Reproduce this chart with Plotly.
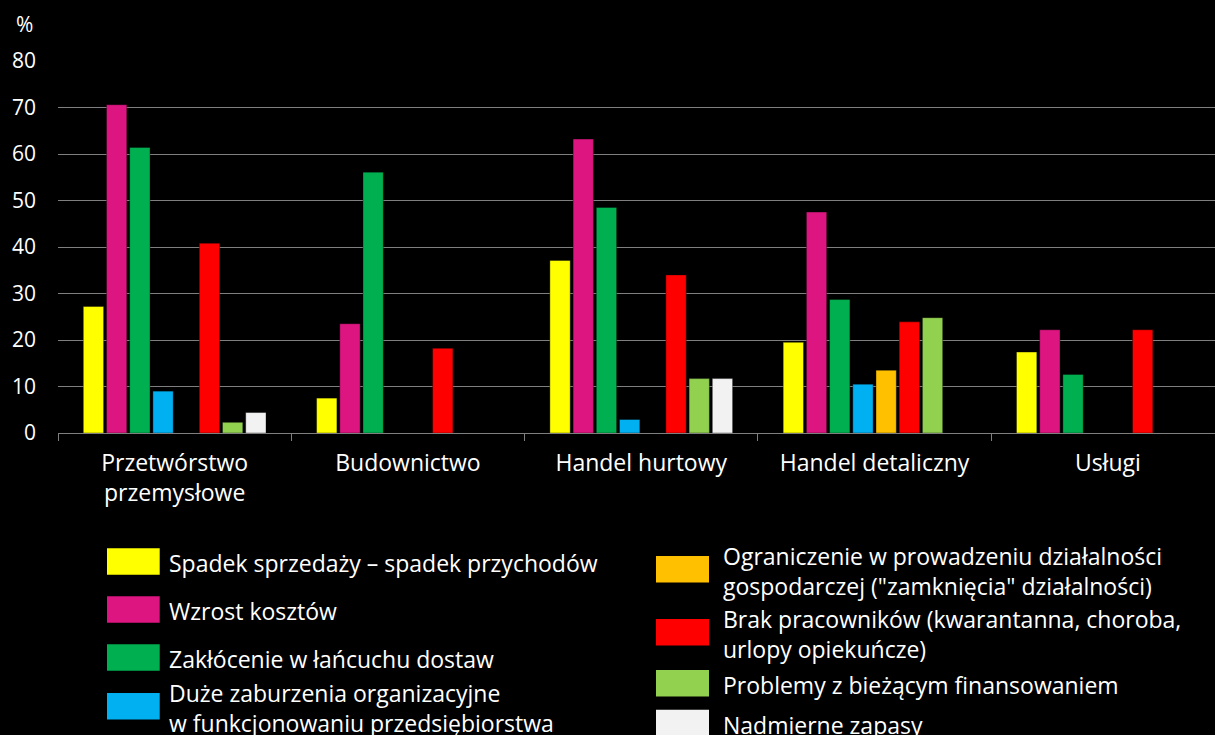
import plotly.graph_objects as go

# ---- data -------------------------------------------------------------
categories = [
    "Przetwórstwo<br>przemysłowe",
    "Budownictwo",
    "Handel hurtowy",
    "Handel detaliczny",
    "Usługi",
]

series_names = [
    "Spadek sprzedaży – spadek przychodów",
    "Wzrost kosztów",
    "Zakłócenie w łańcuchu dostaw",
    "Duże zaburzenia organizacyjne<br>w funkcjonowaniu przedsiębiorstwa",
    "Ograniczenie w prowadzeniu działalności<br>gospodarczej (\"zamknięcia\" działalności)",
    "Brak pracowników (kwarantanna, choroba,<br>urlopy opiekuńcze)",
    "Problemy z bieżącym finansowaniem",
    "Nadmierne zapasy",
]

spadek_sprzedazy = [27.2, 7.5, 37.1, 19.5, 17.4]
wzrost_kosztow = [70.6, 23.5, 63.2, 47.5, 22.2]
zaklocenie_dostaw = [61.4, 56.1, 48.5, 28.7, 12.6]
zaburzenia_org = [9.0, 0, 2.9, 10.5, 0]
ograniczenie_dzial = [0, 0, 0, 13.5, 0]
brak_pracownikow = [40.8, 18.2, 34.0, 23.9, 22.2]
problemy_finans = [2.3, 0, 11.7, 24.8, 0]
nadmierne_zapasy = [4.4, 0, 11.7, 0, 0]

values = [
    spadek_sprzedazy, wzrost_kosztow, zaklocenie_dostaw, zaburzenia_org,
    ograniczenie_dzial, brak_pracownikow, problemy_finans, nadmierne_zapasy,
]

y_ticks = [0, 10, 20, 30, 40, 50, 60, 70, 80]

COLOURS = [
    "#ffff00",  # yellow
    "#dd1580",  # magenta
    "#00b050",  # green
    "#00b0f0",  # blue
    "#ffc000",  # orange
    "#ff0000",  # red
    "#92d050",  # light green
    "#f2f2f2",  # near white
]

# ---- style ------------------------------------------------------------
_W, _H = 1215, 735
_L, _R, _T, _B = 58, 0, 61, 302
_FONT = "Open Sans, Noto Sans, sans-serif"
_GRID = "#7f7f7f"
_BAND = 233.3

fig = go.Figure()
for name, vals, col in zip(series_names, values, COLOURS):
    fig.add_trace(go.Bar(
        x=categories,
        y=vals,
        name=name.replace("<br>", " "),
        marker=dict(color=col, line=dict(color="rgba(0,0,0,0.35)", width=1)),
        showlegend=False,
    ))


def px_x(p):
    return (p - _L) / (_W - _L - _R)


def px_y(p):
    return (_H - _B - p) / (_H - _T - _B)


# hand-built legend: big swatches in two columns
legend_cols = [
    dict(x0=107, x1=159.7, tx=167, centres=[561.5, 609.5, 657.5, 706.3]),
    dict(x0=656, x1=709, tx=721, centres=[569.3, 632.3, 683.3, 723]),
]
shapes, annotations = [], []
for i, (name, col) in enumerate(zip(series_names, COLOURS)):
    c = legend_cols[i // 4]
    yc = c["centres"][i % 4]
    shapes.append(dict(
        type="rect", xref="paper", yref="paper",
        x0=px_x(c["x0"]), x1=px_x(c["x1"]),
        y0=px_y(yc + 13.2), y1=px_y(yc - 13.2),
        fillcolor=col, line=dict(width=0), layer="above",
    ))
    annotations.append(dict(
        text=name, xref="paper", yref="paper",
        x=px_x(c["tx"]), y=px_y(yc + 1.5),
        xanchor="left", yanchor="middle", align="left", showarrow=False,
        font=dict(family=_FONT, size=23, color="#ffffff"),
    ))

annotations.append(dict(
    text="%", xref="paper", yref="paper",
    x=px_x(24.5), y=px_y(24), xanchor="center", yanchor="middle",
    showarrow=False, font=dict(family=_FONT, size=21, color="#ffffff"),
))

fig.update_layout(
    width=_W, height=_H,
    paper_bgcolor="#000000",
    plot_bgcolor="#000000",
    font=dict(family=_FONT, color="#ffffff", size=23),
    margin=dict(l=_L, r=_R, t=_T, b=_B, autoexpand=False),
    barmode="group",
    bargap=0.2045,
    bargroupgap=0.125,
    shapes=shapes,
    annotations=annotations,
)
fig.update_xaxes(
    range=[-0.5, -0.5 + (_W - _L - _R) / _BAND],
    showline=True, linecolor=_GRID, linewidth=1,
    ticks="outside", tickson="boundaries", ticklen=7, tickcolor=_GRID,
    ticklabelstandoff=9,
    tickfont=dict(family=_FONT, size=23, color="#ffffff"),
    showgrid=False,
)
fig.update_yaxes(
    range=[0, 80], tickvals=y_ticks,
    gridcolor=_GRID, gridwidth=1, zeroline=False,
    ticks="", ticklabelstandoff=21,
    tickfont=dict(family=_FONT, size=21, color="#ffffff"),
)

fig.write_html(
    "out.html",
    config={"displayModeBar": False},
    post_script="document.body.style.margin='0';",
)
